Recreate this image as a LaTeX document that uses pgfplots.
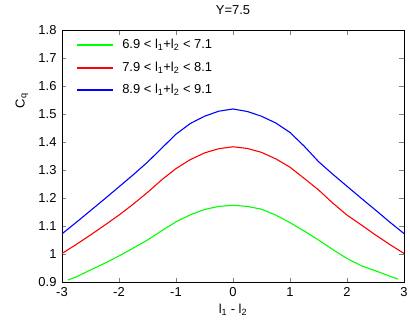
\documentclass[border=0pt]{standalone}
\usepackage{fontspec}
\setmainfont{Liberation Sans}
\usepackage{pgfplots}
\pgfplotsset{compat=1.18}
\definecolor{gpgreen}{RGB}{0,255,0}
\definecolor{gpred}{RGB}{255,0,0}
\definecolor{gpblue}{RGB}{0,0,255}
\newcommand{\gpfont}{\fontsize{13}{15}\selectfont}
\begin{document}
\begin{tikzpicture}
\begin{axis}[
    scale only axis,
    width=342bp, height=252bp,
    xmin=-3, xmax=3, ymin=0.9, ymax=1.8,
    xtick={-3,-2,...,3},
    ytick={0.9,1,1.1,1.2,1.3,1.4,1.5,1.6,1.7,1.8},
    yticklabel style={/pgf/number format/fixed, /pgf/number format/precision=1, xshift=-2bp},
    xticklabel style={yshift=-2bp},
    /pgf/number format/assume math mode=true,
    tick label style={font=\gpfont},
    label style={font=\gpfont},
    title style={font=\gpfont, at={(rel axis cs:0.5,1)}, anchor=center, yshift=14bp},
    title={Y=7.5},
    xlabel={l\textsubscript{1} - l\textsubscript{2}},
    xlabel style={at={(rel axis cs:0.5,0)}, anchor=center, yshift=-28bp},
    ylabel={C\textsubscript{q}},
    ylabel style={at={(rel axis cs:0,0.72)}, anchor=center, yshift=40bp},
    tick align=inside,
    major tick length=4.5bp,
    every axis plot/.append style={line width=1.1pt},
]
\coordinate (ll) at (rel axis cs:0,0);
\coordinate (k1) at (rel axis cs:0.044,0.940);
\coordinate (k2) at (rel axis cs:0.044,0.850);
\coordinate (k3) at (rel axis cs:0.044,0.762);
\addplot[draw=gpgreen] coordinates {
(-2.9,0.907)(-2.75,0.918)(-2.5,0.943)(-2.25,0.967)(-2,0.993)(-1.75,1.021)
(-1.5,1.050)(-1.25,1.083)(-1,1.115)(-0.75,1.140)(-0.5,1.159)(-0.25,1.170)
(0,1.174)(0.25,1.170)(0.5,1.160)(0.75,1.139)(1,1.112)(1.25,1.082)
(1.5,1.050)(1.75,1.016)(2,0.984)(2.25,0.958)(2.5,0.940)(2.75,0.921)(2.9,0.910)
};
\addplot[draw=gpred] coordinates {
(-3,1.002)(-2.75,1.034)(-2.5,1.068)(-2.25,1.103)(-2,1.139)(-1.75,1.178)
(-1.5,1.220)(-1.25,1.265)(-1,1.305)(-0.75,1.337)(-0.5,1.361)(-0.25,1.376)
(0,1.383)(0.25,1.377)(0.5,1.363)(0.75,1.340)(1,1.310)(1.25,1.270)
(1.5,1.229)(1.75,1.182)(2,1.139)(2.25,1.104)(2.5,1.068)(2.75,1.034)(3,1.002)
};
\addplot[draw=gpblue] coordinates {
(-3,1.072)(-2.75,1.113)(-2.5,1.155)(-2.25,1.197)(-2,1.240)(-1.75,1.283)
(-1.5,1.328)(-1.25,1.378)(-1,1.428)(-0.75,1.466)(-0.5,1.492)(-0.25,1.510)
(0,1.518)(0.25,1.509)(0.5,1.492)(0.75,1.468)(1,1.434)(1.25,1.385)
(1.5,1.330)(1.75,1.285)(2,1.242)(2.25,1.199)(2.5,1.157)(2.75,1.114)(3,1.073)
};
\end{axis}
% key at top left, no box (gnuplot style)
\node[anchor=west, inner sep=0pt, font=\gpfont] at ([xshift=45bp]k1) {6.9 < l\textsubscript{1}+l\textsubscript{2} < 7.1};
\node[anchor=west, inner sep=0pt, font=\gpfont] at ([xshift=45bp]k2) {7.9 < l\textsubscript{1}+l\textsubscript{2} < 8.1};
\node[anchor=west, inner sep=0pt, font=\gpfont] at ([xshift=45bp]k3) {8.9 < l\textsubscript{1}+l\textsubscript{2} < 9.1};
\fill[gpgreen] ([yshift=-0.7bp]k1) rectangle ++(36bp,1.4bp);
\fill[gpred] ([yshift=-0.7bp]k2) rectangle ++(36bp,1.4bp);
\fill[gpblue] ([yshift=-0.7bp]k3) rectangle ++(36bp,1.4bp);
\pgfresetboundingbox
\path (ll) ++(-62bp,-45bp) rectangle ++(410bp,327bp);
\end{tikzpicture}
\end{document}
